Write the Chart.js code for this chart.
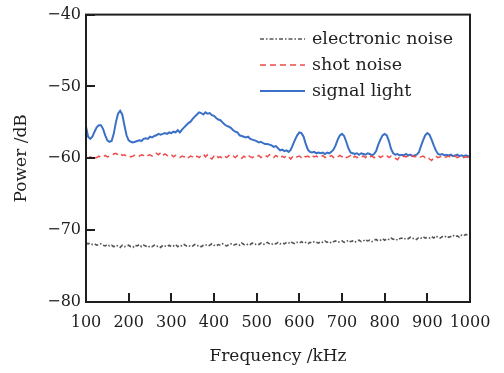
<!DOCTYPE html>
<html><head><meta charset="utf-8">
<script src="https://cdn.jsdelivr.net/npm/chart.js@4.4.1/dist/chart.umd.min.js"></script>
<style>html,body{margin:0;padding:0;background:#fff}#wrap{width:504px;height:373px;position:relative}</style>
</head><body><div id="wrap"><canvas id="c" width="504" height="373"></canvas></div>
<script>
// Frequency axis samples (kHz)
const freq = [
100,105,110,115,120,125,130,135,140,145,
150,155,160,165,170,175,180,185,190,195,
200,205,210,215,220,225,230,235,240,245,
250,255,260,265,270,275,280,285,290,295,
300,305,310,315,320,325,330,335,340,345,
350,355,360,365,370,375,380,385,390,395,
400,405,410,415,420,425,430,435,440,445,
450,455,460,465,470,475,480,485,490,495,
500,505,510,515,520,525,530,535,540,545,
550,555,560,565,570,575,580,585,590,595,
600,605,610,615,620,625,630,635,640,645,
650,655,660,665,670,675,680,685,690,695,
700,705,710,715,720,725,730,735,740,745,
750,755,760,765,770,775,780,785,790,795,
800,805,810,815,820,825,830,835,840,845,
850,855,860,865,870,875,880,885,890,895,
900,905,910,915,920,925,930,935,940,945,
950,955,960,965,970,975,980,985,990,995,
1000];
const electronicNoise = [
-71.8,-71.9,-71.8,-72.0,-71.9,-72.1,-72.0,-71.9,-72.1,-72.2,
-72.0,-72.2,-72.1,-72.3,-72.1,-72.2,-72.4,-72.1,-72.3,-72.2,
-72.1,-72.3,-72.4,-72.1,-72.2,-72.0,-72.3,-72.1,-72.2,-72.4,
-72.2,-72.3,-72.1,-72.3,-72.2,-72.4,-72.1,-72.2,-72.3,-72.1,
-72.3,-72.2,-72.0,-72.3,-72.1,-72.2,-72.0,-72.2,-72.1,-72.3,
-72.2,-72.0,-72.2,-72.1,-72.3,-72.1,-72.0,-72.2,-72.1,-71.9,
-72.1,-72.2,-72.0,-72.1,-71.9,-72.1,-72.2,-72.0,-71.9,-72.1,
-72.0,-71.9,-72.1,-71.8,-72.0,-72.1,-71.9,-72.0,-71.8,-72.0,
-71.9,-72.0,-71.8,-72.0,-71.9,-71.7,-71.9,-72.0,-71.8,-71.9,
-71.7,-71.9,-71.8,-71.9,-71.7,-71.8,-71.6,-71.8,-71.9,-71.7,
-71.8,-71.6,-71.8,-71.7,-71.9,-71.7,-71.8,-71.6,-71.7,-71.8,
-71.6,-71.7,-71.5,-71.7,-71.6,-71.8,-71.6,-71.5,-71.7,-71.6,
-71.5,-71.7,-71.6,-71.4,-71.6,-71.5,-71.7,-71.5,-71.4,-71.6,
-71.5,-71.3,-71.5,-71.4,-71.6,-71.4,-71.3,-71.5,-71.4,-71.2,
-71.4,-71.2,-71.3,-71.1,-71.3,-71.2,-71.4,-71.2,-71.1,-71.3,
-71.1,-71.2,-71.0,-71.2,-71.1,-71.3,-71.0,-71.1,-70.9,-71.1,
-71.0,-71.1,-70.9,-71.1,-70.8,-71.0,-71.1,-70.9,-71.0,-70.8,
-71.0,-70.9,-70.7,-70.9,-70.8,-71.0,-70.7,-70.8,-70.6,-70.7,
-70.6];
const shotNoise = [
-59.9,-60.0,-59.8,-59.9,-60.0,-59.9,-59.7,-59.9,-59.8,-59.6,
-59.8,-59.7,-59.6,-59.4,-59.3,-59.5,-59.3,-59.6,-59.5,-59.7,
-59.6,-59.8,-59.7,-59.5,-59.6,-59.7,-59.5,-59.6,-59.4,-59.6,
-59.5,-59.7,-59.6,-59.3,-59.5,-59.2,-59.6,-59.4,-59.6,-59.7,
-59.5,-59.8,-59.6,-59.7,-59.9,-59.7,-59.8,-59.6,-59.9,-59.7,
-59.8,-60.0,-59.7,-59.9,-59.6,-59.4,-59.8,-59.5,-59.9,-60.1,
-59.7,-59.5,-59.9,-59.8,-60.0,-59.7,-59.9,-59.6,-59.8,-59.7,
-59.9,-59.6,-59.8,-60.0,-59.7,-59.9,-59.6,-59.8,-59.9,-59.7,
-59.8,-59.6,-59.9,-59.7,-59.6,-59.8,-59.5,-59.7,-59.9,-59.6,
-59.8,-60.0,-59.7,-59.9,-59.6,-59.8,-60.1,-59.7,-59.9,-59.8,
-59.7,-59.9,-59.6,-59.8,-59.7,-59.9,-59.6,-59.8,-59.7,-59.9,
-59.8,-59.6,-59.9,-59.7,-59.8,-59.6,-59.9,-59.7,-59.8,-59.6,
-59.8,-59.6,-59.9,-59.8,-59.6,-60.0,-59.7,-59.9,-59.7,-59.8,
-59.7,-59.9,-59.6,-59.8,-59.7,-59.9,-59.8,-59.6,-59.9,-59.7,
-59.8,-59.6,-59.9,-59.7,-59.8,-60.0,-60.2,-59.8,-59.9,-59.7,
-59.8,-59.7,-59.9,-59.6,-59.8,-59.7,-59.9,-59.8,-59.7,-59.9,
-59.8,-60.1,-60.3,-59.9,-59.7,-59.9,-59.8,-59.7,-59.9,-59.8,
-59.7,-59.9,-59.8,-59.7,-59.9,-59.8,-59.7,-59.9,-59.8,-59.9,
-59.8];
const signalLight = [
-55.6,-57.0,-57.3,-57.0,-56.3,-55.7,-55.4,-55.4,-55.9,-56.8,
-57.5,-57.7,-57.6,-56.6,-55.0,-53.8,-53.4,-53.9,-55.4,-56.8,
-57.5,-57.7,-57.8,-57.7,-57.6,-57.5,-57.6,-57.3,-57.2,-57.3,
-57.0,-57.1,-56.9,-56.8,-56.6,-56.7,-56.6,-56.5,-56.6,-56.4,
-56.5,-56.3,-56.4,-56.1,-56.4,-56.0,-55.7,-55.4,-55.1,-54.9,
-54.5,-54.2,-53.9,-53.6,-53.7,-53.9,-53.6,-53.8,-53.7,-54.0,
-54.1,-54.4,-54.6,-54.7,-55.0,-55.3,-55.5,-55.6,-55.8,-56.1,
-56.3,-56.4,-56.8,-56.9,-57.0,-57.1,-57.0,-57.3,-57.4,-57.5,
-57.6,-57.8,-57.7,-57.9,-58.0,-58.0,-58.1,-58.2,-58.4,-58.3,
-58.6,-58.9,-58.8,-59.0,-58.9,-59.1,-58.8,-58.1,-57.4,-56.8,
-56.4,-56.5,-57.0,-58.0,-58.8,-59.1,-59.2,-59.1,-59.3,-59.2,
-59.3,-59.2,-59.4,-59.2,-59.3,-59.1,-58.8,-58.2,-57.4,-56.8,
-56.6,-56.9,-57.7,-58.6,-59.2,-59.3,-59.4,-59.3,-59.5,-59.3,
-59.4,-59.5,-59.3,-59.4,-59.6,-59.4,-59.0,-58.1,-57.4,-56.8,
-56.6,-56.8,-57.6,-58.7,-59.3,-59.5,-59.4,-59.6,-59.5,-59.6,
-59.4,-59.6,-59.5,-59.7,-59.6,-59.5,-59.2,-58.3,-57.5,-56.8,
-56.5,-56.7,-57.4,-58.2,-58.9,-59.4,-59.5,-59.4,-59.6,-59.5,
-59.6,-59.5,-59.7,-59.6,-59.5,-59.7,-59.6,-59.7,-59.6,-59.7,
-59.7];
const xTicks = [100,200,300,400,500,600,700,800,900,1000];
const yTicks = [-80,-70,-60,-50,-40];
const seriesNames = ['electronic noise','shot noise','signal light'];

const SERIF = '"DejaVu Serif", serif';
const INK = '#1e1e1e';

const toPts = arr => freq.map((f, i) => ({x: f, y: arr[i]}));

const framePlugin = {
  id: 'frame',
  afterDatasetsDraw(chart) {
    const {ctx, chartArea: a, scales} = chart;
    ctx.save();
    ctx.strokeStyle = INK;
    ctx.lineWidth = 2;
    ctx.strokeRect(a.left, a.top, a.right - a.left, a.bottom - a.top);
    ctx.beginPath();
    xTicks.forEach(v => {
      const px = Math.round(scales.x.getPixelForValue(v));
      ctx.moveTo(px, a.bottom); ctx.lineTo(px, a.bottom - 9);
    });
    yTicks.forEach(v => {
      const py = Math.round(scales.y.getPixelForValue(v));
      ctx.moveTo(a.left, py); ctx.lineTo(a.left + 9, py);
    });
    ctx.stroke();
    ctx.restore();
  },
  afterDraw(chart) {
    const {ctx} = chart;
    const rows = [39, 65, 91];
    ctx.save();
    chart.data.datasets.forEach((ds, i) => {
      const y = rows[i];
      ctx.strokeStyle = ds.borderColor;
      ctx.lineWidth = ds.borderWidth;
      ctx.setLineDash(ds.borderDash || []);
      ctx.beginPath();
      ctx.moveTo(260, y); ctx.lineTo(305, y);
      ctx.stroke();
      ctx.setLineDash([]);
      ctx.fillStyle = INK;
      ctx.font = '17.5px ' + SERIF;
      ctx.textBaseline = 'middle';
      ctx.textAlign = 'left';
      ctx.fillText(ds.label, 312, y);
    });
    ctx.restore();
  }
};

new Chart(document.getElementById('c'), {
  type: 'line',
  data: {
    datasets: [
      {label: seriesNames[0], data: toPts(electronicNoise), borderColor: '#555555', borderWidth: 1.6, borderDash: [4, 2, 1.5, 2], pointRadius: 0, tension: 0},
      {label: seriesNames[1], data: toPts(shotNoise), borderColor: '#f04a4a', borderWidth: 1.5, borderDash: [6, 4], pointRadius: 0, tension: 0},
      {label: seriesNames[2], data: toPts(signalLight), borderColor: '#3a70c6', borderWidth: 2, pointRadius: 0, tension: 0}
    ]
  },
  options: {
    responsive: false,
    animation: false,
    devicePixelRatio: 1,
    layout: {padding: {left: 0, right: 34, top: 12, bottom: 0}},
    plugins: {legend: {display: false}, tooltip: {enabled: false}},
    scales: {
      x: {
        type: 'linear', min: 100, max: 1000,
        afterBuildTicks: s => { s.ticks = xTicks.map(v => ({value: v})); },
        afterFit: s => { s.height = 71; },
        grid: {display: false, drawTicks: false}, border: {display: false},
        ticks: {font: {family: SERIF, size: 16}, color: INK, padding: 11, maxRotation: 0, autoSkip: false, callback: v => String(v)},
        title: {display: true, text: 'Frequency /kHz', font: {family: SERIF, size: 17}, color: INK, padding: {top: 0, bottom: 6}}
      },
      y: {
        type: 'linear', min: -80, max: -40,
        afterBuildTicks: s => { s.ticks = yTicks.map(v => ({value: v})); },
        afterFit: s => { s.width = 86; },
        grid: {display: false, drawTicks: false}, border: {display: false},
        ticks: {font: {family: SERIF, size: 16}, color: INK, padding: 5, callback: v => (v < 0 ? '\u2212' : '') + Math.abs(v)},
        title: {display: true, text: 'Power /dB', font: {family: SERIF, size: 17}, color: INK, padding: {top: 11, bottom: 0}}
      }
    }
  },
  plugins: [framePlugin]
});
</script></body></html>
